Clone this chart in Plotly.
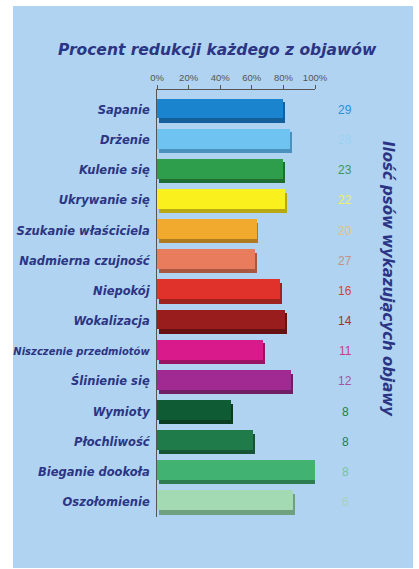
import plotly.graph_objects as go

categories = ["Sapanie", "Drżenie", "Kulenie się", "Ukrywanie się", "Szukanie właściciela",
              "Nadmierna czujność", "Niepokój", "Wokalizacja", "Niszczenie przedmiotów",
              "Ślinienie się", "Wymioty", "Płochliwość", "Bieganie dookoła", "Oszołomienie"]
reduction_pct = [80, 84, 80, 81, 63, 62, 78, 81, 67, 85, 47, 61, 100, 86]
dog_counts = [29, 28, 23, 22, 20, 27, 16, 14, 11, 12, 8, 8, 8, 6]
x_ticks = [0, 20, 40, 60, 80, 100]
x_tick_labels = ["0%", "20%", "40%", "60%", "80%", "100%"]

bar_colors = ["#1b84cf", "#6ec3f0", "#2e9e4c", "#faf01e", "#f2aa2e", "#e97c5c", "#e0312b",
              "#991d1d", "#d81a8a", "#a02a92", "#0f5b33", "#1f7b49", "#41b272", "#a3d9b3"]
shade_colors = ["#15609a", "#4a92bd", "#1f6e34", "#b8a814", "#b07a1e", "#a85840", "#9e221e",
                "#661212", "#9a1262", "#701e66", "#0a3e23", "#155534", "#2c7d50", "#6fa080"]
count_colors = ["#2e8fd2", "#9ad3f2", "#3a9a52", "#eef060", "#e6c27a", "#c49282", "#d24432",
                "#a53222", "#c2428a", "#a454a4", "#1f7e4c", "#237e4e", "#78c598", "#a6d3b6"]

W, H = 419, 569

idx = list(range(len(categories)))
NAVY = "#2b3584"
LABEL_FONT = "DejaVu Sans"


def px_x(p):
    return p / W


def px_y(p):
    return 1 - p / H


tick_text = []
for c in categories:
    if len(c) > 20:
        tick_text.append(f"<span style='font-size:10px'>{c}</span>")
    else:
        tick_text.append(c)

fig = go.Figure()

# depth / shadow of the bars
fig.add_trace(go.Bar(
    y=idx, x=reduction_pct, base=[1.2] * len(idx), orientation="h",
    width=0.68, offset=-0.26, marker=dict(color=shade_colors, line=dict(width=0)),
    hoverinfo="skip", showlegend=False))
# front face of the bars
fig.add_trace(go.Bar(
    y=idx, x=reduction_pct, orientation="h",
    width=0.66, offset=-0.38, marker=dict(color=bar_colors, line=dict(width=0)),
    showlegend=False))

unit = 30.15
top_px, bot_px, first_c = 90, 517, 110
y_top = -(first_c - top_px) / unit
y_bot = (bot_px - first_c) / unit

annotations = [
    dict(text="Procent redukcji każdego z objawów", xref="paper", yref="paper",
         x=px_x(217), y=px_y(50), showarrow=False, xanchor="center", yanchor="middle",
         font=dict(family=LABEL_FONT, size=15.5, color=NAVY, weight="bold", style="italic")),
    dict(text="Ilość psów wykazujących objawy", xref="paper", yref="paper",
         x=px_x(388), y=px_y(279), showarrow=False, textangle=90,
         xanchor="center", yanchor="middle",
         font=dict(family=LABEL_FONT, size=15, color=NAVY, weight="bold", style="italic")),
]
for i, (n, col) in enumerate(zip(dog_counts, count_colors)):
    annotations.append(dict(
        text=str(n), xref="paper", yref="y", x=px_x(345), y=i, showarrow=False,
        xanchor="center", yanchor="middle",
        font=dict(family="Liberation Sans, Arial", size=12, color=col)))

fig.update_layout(
    width=W, height=H,
    autosize=False,
    margin=dict(l=0, r=0, t=0, b=0, pad=0, autoexpand=False),
    paper_bgcolor="white",
    plot_bgcolor="rgba(0,0,0,0)",
    bargap=0, barmode="overlay",
    xaxis=dict(domain=[px_x(157), px_x(315)], range=[0, 100], side="top",
               automargin=False,
               tickvals=x_ticks, ticktext=x_tick_labels, showgrid=False, zeroline=False,
               showline=True, linecolor="#555555", linewidth=1,
               ticks="outside", ticklen=4, tickcolor="#555555",
               tickfont=dict(family="Liberation Sans, Arial", size=9.5, color="#555555"),
               fixedrange=True),
    yaxis=dict(domain=[px_y(bot_px), px_y(top_px)], range=[y_bot, y_top],
               automargin=False,
               tickvals=idx, ticktext=tick_text, showgrid=False, zeroline=False,
               showline=True, linecolor="#555555", linewidth=1, ticks="",
               ticklabelstandoff=4,
               tickfont=dict(family=LABEL_FONT, size=11.5, color=NAVY, weight="bold", style="italic"),
               fixedrange=True),
    shapes=[dict(type="rect", xref="paper", yref="paper",
                 x0=px_x(13), x1=px_x(413), y0=px_y(568), y1=px_y(6),
                 fillcolor="#b0d3f1", line=dict(width=0), layer="below")],
    annotations=annotations,
)

fig.write_html(
    "out.html",
    config={"displayModeBar": False},
    post_script="document.body.style.margin='0';document.body.style.overflow='hidden';",
)
